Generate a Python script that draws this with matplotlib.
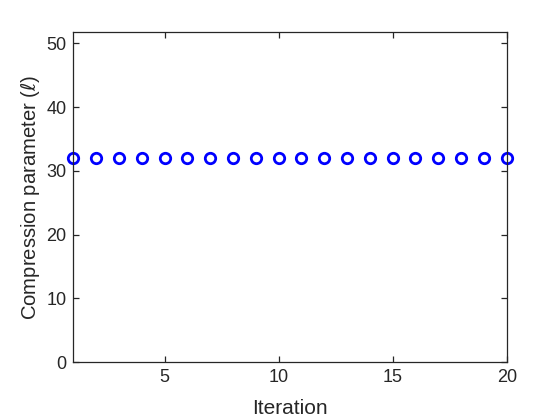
import matplotlib.pyplot as plt
import numpy as np

plt.rcParams['font.family'] = ['Liberation Sans', 'DejaVu Sans']

# compression parameter per iteration
iterations = np.arange(1, 21)
ell_values = [32, 32, 32, 32, 32, 32, 32, 32, 32, 32,
              32, 32, 32, 32, 32, 32, 32, 32, 32, 32]

x_ticks = [5, 10, 15, 20]
y_ticks = [0, 10, 20, 30, 40, 50]

fig = plt.figure(figsize=(5.6, 4.2), dpi=100)
ax = fig.add_axes([0.1309, 0.1374, 0.7739, 0.7871])

ax.plot(iterations, ell_values, 'o', color='#0000ff', markerfacecolor='none',
        markersize=7.5, markeredgewidth=2, clip_on=False)

ax.set_xlim(1, 20)
ax.set_ylim(0, 51.8)
ax.set_xticks(x_ticks)
ax.set_yticks(y_ticks)

dark = '#262626'
for s in ax.spines.values():
    s.set_color(dark)
    s.set_linewidth(0.9)
ax.tick_params(direction='in', top=True, right=True, length=4, width=0.9,
               color=dark, labelcolor=dark, labelsize=13, pad=5)

ax.set_xlabel('Iteration', fontsize=15, color=dark, labelpad=9)
ax.set_ylabel(r'Compression parameter ($\ell$)', fontsize=14.6, color=dark, labelpad=3)

fig.savefig('out.png', dpi=100)
